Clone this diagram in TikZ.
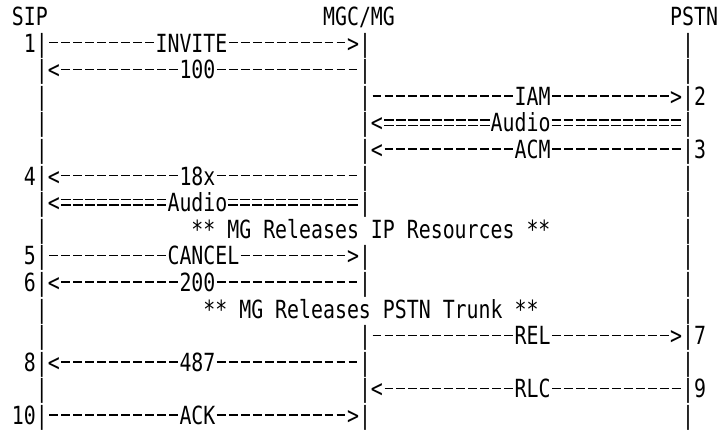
\documentclass[tikz,border=0pt]{standalone}
\usepackage{fontspec}
\newfontfamily\asciifont[FakeStretch=0.795]{DejaVu Sans Mono}
\newlength\cw \setlength\cw{11.967pt}
\newcommand\gdash{\makebox[\cw][c]{\rule[8.6pt]{8.8pt}{1.4pt}}}
\newcommand\gequal{\makebox[\cw][c]{\rlap{\rule[6.0pt]{9.8pt}{1.3pt}}\rule[11.2pt]{9.8pt}{1.3pt}}}
\newcommand\gspace{\makebox[\cw]{}}
\newcommand\gchar[1]{\makebox[\cw][c]{#1}}
\def\gend{\gend}
\def\gtext#1{\gloop#1\gend}
\def\gloop#1{\ifx#1\gend\else\gpick#1\expandafter\gloop\fi}
\def\gpick#1{\ifx#1-\gdash\else\ifx#1=\gequal\else\ifx#1.\gspace\else\gchar{#1}\fi\fi\fi}
\tikzset{ascii/.style={anchor=base west, inner sep=0pt, outer sep=0pt,
  font=\asciifont\fontsize{25}{25}\selectfont, text=black}}
\newcommand\seg[4]{\node[ascii] (#1) at ({#2*11.967pt},{404.5pt-#3*26.6pt}) {\gtext{#4}};}
\begin{document}
\begin{tikzpicture}
\fill[white] (0,0) rectangle (718pt,430pt);
\useasboundingbox (0,0) rectangle (718pt,430pt);
% header
\seg{sip}{1}{0}{SIP}
\seg{mgc}{27}{0}{MGC/MG}
\seg{pstn}{56}{0}{PSTN}
% row 1
\seg{r1a}{2}{1}{1|---------INVITE---------->|}
\seg{r1b}{57}{1}{|}
% row 2
\seg{r2a}{3}{2}{|<----------100------------|}
\seg{r2b}{57}{2}{|}
% row 3
\seg{r3a}{3}{3}{|}
\seg{r3b}{30}{3}{|------------IAM---------->|2}
% row 4
\seg{r4a}{3}{4}{|}
\seg{r4b}{30}{4}{|<=========Audio===========|}
% row 5
\seg{r5a}{3}{5}{|}
\seg{r5b}{30}{5}{|<-----------ACM-----------|3}
% row 6
\seg{r6a}{2}{6}{4|<----------18x------------|}
\seg{r6b}{57}{6}{|}
% row 7
\seg{r7a}{3}{7}{|<=========Audio===========|}
\seg{r7b}{57}{7}{|}
% row 8
\seg{r8a}{3}{8}{|}
\seg{r8b}{16}{8}{**.MG.Releases.IP.Resources.**}
\seg{r8c}{57}{8}{|}
% row 9
\seg{r9a}{2}{9}{5|----------CANCEL--------->|}
\seg{r9b}{57}{9}{|}
% row 10
\seg{r10a}{2}{10}{6|<----------200------------|}
\seg{r10b}{57}{10}{|}
% row 11
\seg{r11a}{3}{11}{|}
\seg{r11b}{17}{11}{**.MG.Releases.PSTN.Trunk.**}
\seg{r11c}{57}{11}{|}
% row 12
\seg{r12a}{3}{12}{|}
\seg{r12b}{30}{12}{|------------REL---------->|7}
% row 13
\seg{r13a}{2}{13}{8|<----------487------------|}
\seg{r13b}{57}{13}{|}
% row 14
\seg{r14a}{3}{14}{|}
\seg{r14b}{30}{14}{|<-----------RLC-----------|9}
% row 15
\seg{r15a}{1}{15}{10|-----------ACK----------->|}
\seg{r15b}{57}{15}{|}
\end{tikzpicture}
\end{document}
